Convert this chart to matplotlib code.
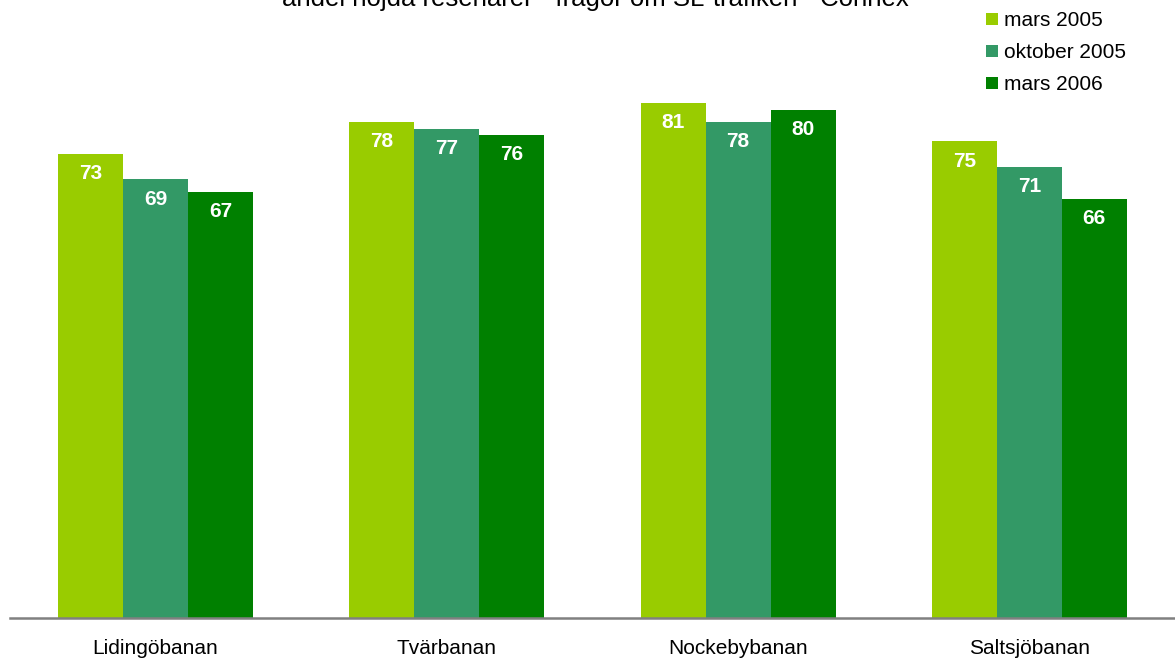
import matplotlib.pyplot as plt
import numpy as np

plt.rcParams['font.family'] = ['Liberation Sans', 'DejaVu Sans']

# data
categories = ['Lidingöbanan', 'Tvärbanan', 'Nockebybanan', 'Saltsjöbanan']
series_names = ['mars 2005', 'oktober 2005', 'mars 2006']
mars_2005 = [73, 78, 81, 75]
oktober_2005 = [69, 77, 78, 71]
mars_2006 = [67, 76, 80, 66]
series_values = [mars_2005, oktober_2005, mars_2006]
colors = ['#99CC00', '#339966', '#008000']

fig = plt.figure(figsize=(11.75, 6.66), dpi=100)
ax = fig.add_axes([10 / 1175, 48 / 666, 1165 / 1175, 572 / 666])

x = np.arange(len(categories))
width = 0.223
for i, (name, vals, col) in enumerate(zip(series_names, series_values, colors)):
    pos = x + (i - 1) * width
    bars = ax.bar(pos, vals, width, color=col, label=name)
    for b, v in zip(bars, vals):
        ax.text(b.get_x() + b.get_width() / 2, v - 3.1, str(v),
                ha='center', va='center', color='white',
                fontsize=15, weight='bold')

ax.set_xlim(-0.5, 3.5)
ax.set_ylim(0, 90)
ax.set_xticks(x)
ax.set_xticklabels(categories, fontsize=15)
ax.tick_params(axis='x', length=0, pad=15)
ax.set_yticks([])
for s in ['top', 'right', 'left']:
    ax.spines[s].set_visible(False)
ax.spines['bottom'].set_color('#808080')
ax.spines['bottom'].set_linewidth(1.8)

# title sits partly above the top edge, as in the original
fig.text(595 / 1175, 1 - 6 / 666,
         'andel nöjda resenärer - frågor om SL-trafiken - Connex',
         ha='center', va='baseline', fontsize=18.5)

fig.legend(loc='upper left', bbox_to_anchor=(978 / 1175, 1 - 3 / 666),
           frameon=False, fontsize=15, handlelength=0.55, handleheight=0.55,
           handletextpad=0.3, labelspacing=0.62, borderaxespad=0)

fig.savefig('out.png', dpi=100)
